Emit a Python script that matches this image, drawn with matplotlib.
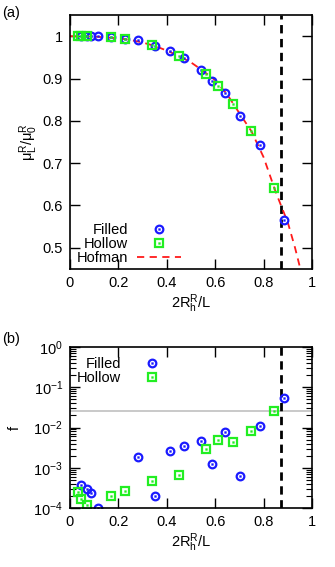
import numpy as np
import matplotlib
matplotlib.use("Agg")
import matplotlib.pyplot as plt
from matplotlib.legend_handler import HandlerTuple

plt.rcParams['font.family'] = ['Liberation Sans', 'DejaVu Sans']
plt.rcParams['mathtext.fontset'] = 'custom'
plt.rcParams['mathtext.rm'] = 'Liberation Sans'
plt.rcParams['mathtext.it'] = 'Liberation Sans'

# filled capsids
x_filled = [0.044, 0.069, 0.088, 0.116, 0.168, 0.226, 0.281, 0.351, 0.415, 0.470,
            0.543, 0.586, 0.642, 0.704, 0.784, 0.883]
mu_filled = [1.0, 1.0, 1.0, 1.0, 0.998, 0.994, 0.990, 0.977, 0.965, 0.949,
             0.920, 0.894, 0.866, 0.811, 0.742, 0.566]
f_filled = [3.8e-4, 3.0e-4, 2.3e-4, 1.0e-4, np.nan, np.nan, 1.9e-3, 1.95e-4, 2.65e-3, 3.4e-3,
            4.7e-3, 1.24e-3, 7.7e-3, 6.3e-4, 1.09e-2, 5.3e-2]

# hollow capsids
x_hollow = [0.033, 0.044, 0.069, 0.168, 0.226, 0.337, 0.450, 0.563, 0.612, 0.674, 0.748, 0.842]
mu_hollow = [1.0, 1.0, 1.0, 0.998, 0.994, 0.980, 0.953, 0.910, 0.883, 0.840, 0.777, 0.641]
f_hollow = [2.5e-4, 1.7e-4, 1.2e-4, 1.95e-4, 2.6e-4, 4.8e-4, 6.7e-4, 3.0e-3, 4.9e-3, 4.4e-3,
            8.2e-3, 2.57e-2]

# Hofman curve
x_hof = [0.0, 0.1, 0.2, 0.25, 0.3, 0.35, 0.4, 0.45, 0.5, 0.55, 0.6, 0.65, 0.7, 0.75,
         0.8, 0.85, 0.872, 0.9, 0.93, 0.952]
mu_hof = [1.0, 0.999, 0.995, 0.991, 0.985, 0.977, 0.966, 0.953, 0.938, 0.918, 0.896, 0.862,
          0.818, 0.775, 0.714, 0.632, 0.600, 0.560, 0.500, 0.450]

x_cut = 0.872
f_cut = 0.025

blue = '#1a1aff'
green = '#22ee22'
ms = 5.5
mew = 1.6
fs = 10.5

fig = plt.figure(figsize=(3.35, 5.67), dpi=100)
W, H = 335, 567
ax1 = fig.add_axes([70 / W, 1 - 269 / H, 242 / W, 254 / H])
ax2 = fig.add_axes([70 / W, 1 - 508 / H, 242 / W, 161 / H])


def pts(ax, x, y, marker, color):
    a, = ax.plot(x, y, ls='none', marker=marker, ms=ms, mfc='none', mec=color, mew=mew)
    b, = ax.plot(x, y, ls='none', marker='s', ms=1.3, mfc=color, mec=color, mew=0.3)
    return (a, b)


hmap = {tuple: HandlerTuple(ndivide=1, pad=0)}

# (a)
ax1.axvline(x_cut, color='black', ls=(0, (3, 2)), lw=2)
hof, = ax1.plot(x_hof, mu_hof, color='#ff1a1a', ls=(0, (4, 3)), lw=1.3)
hf = pts(ax1, x_filled, mu_filled, 'o', blue)
hh = pts(ax1, x_hollow, mu_hollow, 's', green)
ax1.set_xlim(0, 1)
ax1.set_ylim(0.45, 1.05)
ax1.set_xticks(np.arange(0, 1.01, 0.2), ['0', '0.2', '0.4', '0.6', '0.8', '1'])
ax1.set_yticks(np.arange(0.5, 1.01, 0.1), ['0.5', '0.6', '0.7', '0.8', '0.9', '1'])
ax1.set_xlabel(r'$\mathregular{2R_h^R/L}$', fontsize=fs, labelpad=2)
ax1.set_ylabel(r'$\mathregular{\mu_L^R/\mu_0^R}$', fontsize=fs, labelpad=2)
ax1.legend([hf, hh, hof], ['Filled', 'Hollow', 'Hofman'], loc='lower left',
           bbox_to_anchor=(-0.02, -0.03), markerfirst=False, frameon=False, fontsize=fs,
           handlelength=3.0, handletextpad=0.6, labelspacing=0.0, borderpad=0.3,
           handler_map=hmap)

# (b)
ax2.axhline(f_cut, color='#c0c0c0', lw=1.2)
ax2.axvline(x_cut, color='black', ls=(0, (3, 2)), lw=2)
gf = pts(ax2, x_filled, f_filled, 'o', blue)
gh = pts(ax2, x_hollow, f_hollow, 's', green)
ax2.set_yscale('log')
ax2.set_xlim(0, 1)
ax2.set_ylim(1e-4, 1)
ax2.set_xticks(np.arange(0, 1.01, 0.2), ['0', '0.2', '0.4', '0.6', '0.8', '1'])
ax2.set_yticks([1e-4, 1e-3, 1e-2, 1e-1, 1])
ax2.set_xlabel(r'$\mathregular{2R_h^R/L}$', fontsize=fs, labelpad=2)
ax2.set_ylabel('f', fontsize=fs, labelpad=8)
ax2.legend([gf, gh], ['Filled', 'Hollow'], loc='upper left',
           bbox_to_anchor=(-0.02, 1.012), markerfirst=False, frameon=False, fontsize=fs,
           handlelength=3.0, handletextpad=0.6, labelspacing=0.0, borderpad=0.3,
           handler_map=hmap)

for ax in (ax1, ax2):
    ax.tick_params(which='both', direction='in', top=True, right=True, labelsize=fs)
    ax.tick_params(which='major', length=7, width=1, pad=5)
    ax.tick_params(which='minor', length=4, width=0.8)
    for s in ax.spines.values():
        s.set_linewidth(1.2)

fig.text(2 / W, 1 - 13 / H, '(a)', fontsize=fs, va='center')
fig.text(2 / W, 1 - 339 / H, '(b)', fontsize=fs, va='center')

fig.savefig('out.png', dpi=100)
